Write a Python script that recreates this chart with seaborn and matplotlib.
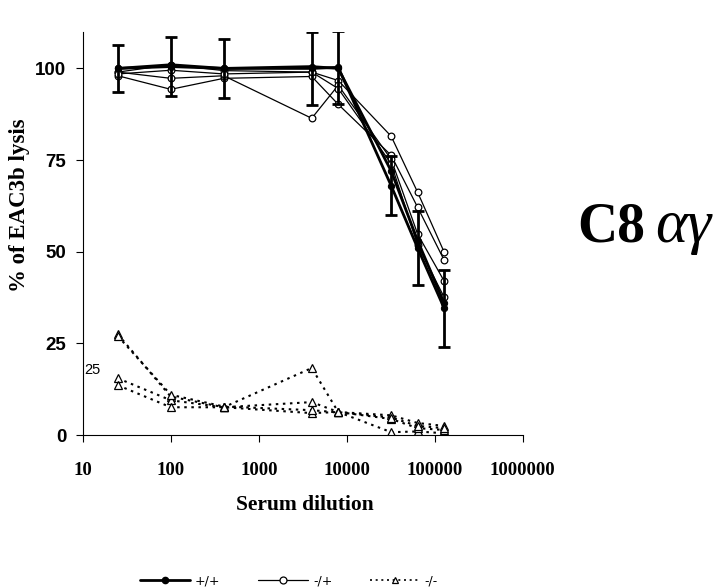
import matplotlib
matplotlib.use("Agg")
import matplotlib.pyplot as plt
from matplotlib.lines import Line2D
import seaborn as sns

dilution = [25, 100, 400, 4000, 8000, 32000, 64000, 128000]

# +/+ (filled circles, thick)
wt_a = [100, 100.5, 100, 100, 100.3, 68, 51, 34.6]
wt_b = [100, 101, 100, 100.5, 100, 72, 53, 36]
wt_err = [6.5, 8, 8, 10, 10, 8, 10, 10.5]

# -/+ (open circles)
het_1 = [99, 101, 99.4, 99, 96.7, 81.5, 66.2, 49.9]
het_2 = [98, 94.3, 97.3, 97.8, 90.2, 76.3, 62.1, 47.7]
het_3 = [99, 97.3, 98, 86.4, 95.4, 75.2, 54.8, 42]
het_4 = [98.5, 99.5, 98.5, 99, 94.5, 74, 51.8, 37.6]

# -/- (open triangles, dotted)
ko_1 = [27.5, 10.5, 7.6, 18.3, 6.3, 0.8, 1.0, 0.5]
ko_2 = [15.5, 9.5, 7.6, 9.0, 6.3, 5.4, 3.3, 2.5]
ko_3 = [13.6, 7.6, 7.6, 6.0, 6.3, 4.4, 1.9, 1.4]
ko_4 = [27.0, 11.0, 7.8, 6.8, 6.2, 4.8, 2.5, 1.9]

sns.set_style("white")
plt.rcParams["text.color"] = "black"
plt.rcParams["axes.labelcolor"] = "black"
plt.rcParams["xtick.color"] = "black"
plt.rcParams["ytick.color"] = "black"

fig = plt.figure(figsize=(7.2, 5.88), dpi=100)
ax = fig.add_axes([0.115, 0.26, 0.611, 0.686])

serif = ["Liberation Serif", "DejaVu Serif"]
sans = ["Liberation Sans", "DejaVu Sans"]
dots = (0, (1.2, 2.2))

for vals in [ko_1, ko_2, ko_3, ko_4]:
    sns.lineplot(x=dilution, y=vals, ax=ax, color="black", linestyle=dots,
                 linewidth=1.5, marker="^", markersize=5.5, markerfacecolor="white",
                 markeredgecolor="black", markeredgewidth=0.9)

for vals in [het_1, het_2, het_3, het_4]:
    sns.lineplot(x=dilution, y=vals, ax=ax, color="black", linewidth=0.9,
                 marker="o", markersize=4.8, markerfacecolor="white",
                 markeredgecolor="black", markeredgewidth=0.9)

for vals in [wt_a, wt_b]:
    sns.lineplot(x=dilution, y=vals, ax=ax, color="black", linewidth=2,
                 marker="o", markersize=4.5, markerfacecolor="black",
                 markeredgecolor="black")

ax.errorbar(dilution, wt_a, yerr=wt_err, fmt="none", ecolor="black",
            elinewidth=2, capsize=4, capthick=2)

ax.set_xscale("log")
ax.set_xlim(10, 1000000)
ax.set_ylim(0, 110)
ax.set_yticks([0, 25, 50, 75, 100])
ax.set_xticks([10, 100, 1000, 10000, 100000, 1000000])
ax.set_xticklabels(["10", "100", "1000", "10000", "100000", "1000000"],
                   family=serif, fontweight="bold", fontsize=13.5)
ax.set_yticklabels(["0", "25", "50", "75", "100"], family=sans,
                   fontweight="bold", fontsize=13.5)
ax.minorticks_off()
ax.tick_params(axis="both", direction="out", length=5, width=0.8, color="black",
               bottom=True, left=True)
ax.tick_params(axis="x", pad=14)
ax.tick_params(axis="y", pad=7)

for side in ["top", "right"]:
    ax.spines[side].set_visible(False)
for side in ["left", "bottom"]:
    ax.spines[side].set_color("black")
    ax.spines[side].set_linewidth(0.8)

ax.set_xlabel("Serum dilution", family=serif, fontweight="bold", fontsize=15.5)
ax.xaxis.set_label_coords((305 - 83) / 440, -(495 - 435) / 403)
ax.set_ylabel("% of EAC3b lysis", family=serif, fontweight="bold", fontsize=16.5)
ax.yaxis.set_label_coords(-(83 - 30) / 440, (435 - 205) / 403)

fig.text(84 / 720, 1 - 370 / 588, "25", family=sans, fontsize=10.5, va="center")
fig.text(577 / 720, 1 - 242 / 588, "C8", family=serif, fontweight="bold",
         fontsize=40, va="baseline")
fig.text(655 / 720, 1 - 242 / 588, "αγ", family=serif, style="italic",
         fontsize=44, va="baseline")

handles = [
    Line2D([], [], color="black", linewidth=2, marker="o", markersize=4.5,
           markerfacecolor="black"),
    Line2D([], [], color="black", linewidth=0.9, marker="o", markersize=5,
           markerfacecolor="white", markeredgewidth=0.9),
    Line2D([], [], color="black", linewidth=1.2, linestyle=dots,
           marker="^", markersize=5, markerfacecolor="white", markeredgewidth=0.9),
]
fig.legend(handles, ["+/+", "-/+", "-/-"], loc="center",
           bbox_to_anchor=(289 / 720, 1 - 581 / 588), ncol=3, frameon=False,
           fontsize=9, handlelength=4, columnspacing=3.0, handletextpad=0.4)

fig.savefig("out.png", dpi=100)
